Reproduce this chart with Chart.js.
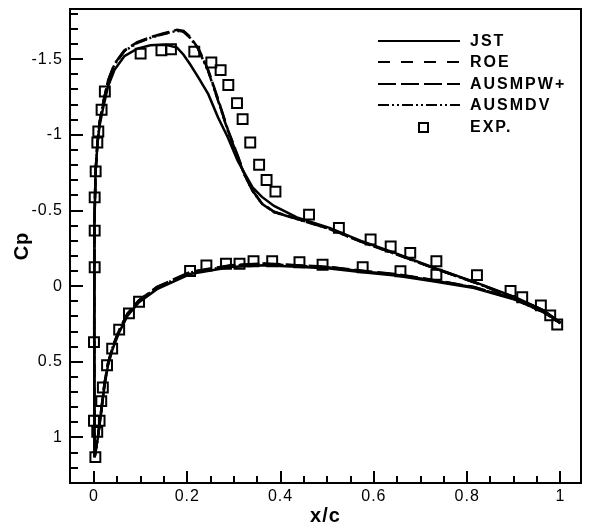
<!DOCTYPE html>
<html>
<head>
<meta charset="utf-8">
<script src="https://cdn.jsdelivr.net/npm/chart.js@4/dist/chart.umd.min.js"></script>
<style>
  html, body { margin: 0; padding: 0; background: #fff; }
  canvas { display: block; }
</style>
</head>
<body>
<canvas id="cp-chart" width="590" height="526"></canvas>
<script>
// surface stations (x/c), leading edge -> trailing edge
const X_UPPER = [0.0015, 0.0008, 0.0005, 0.0006, 0.0012, 0.0035, 0.0075, 0.012, 0.019, 0.03, 0.044, 0.065, 0.093, 0.121, 0.15, 0.178, 0.192, 0.206, 0.224, 0.245, 0.266, 0.287, 0.308, 0.322, 0.34, 0.36, 0.386, 0.435, 0.505, 0.576, 0.646, 0.73, 0.815, 0.9, 0.963, 1.0];
const X_LOWER = [0.0015, 0.0085, 0.0156, 0.0226, 0.03, 0.04, 0.054, 0.072, 0.0966, 0.135, 0.206, 0.294, 0.364, 0.435, 0.505, 0.576, 0.646, 0.73, 0.815, 0.9, 0.963, 1.0];

const JST_UPPER = [1.13, 0.75, 0.3, -0.1, -0.45, -0.76, -0.94, -1.06, -1.17, -1.32, -1.43, -1.52, -1.57, -1.592, -1.598, -1.577, -1.53, -1.467, -1.379, -1.269, -1.115, -0.983, -0.829, -0.75, -0.653, -0.59, -0.53, -0.455, -0.385, -0.295, -0.218, -0.12, -0.028, 0.07, 0.158, 0.24];
const JST_LOWER = [1.13, 1.0, 0.83, 0.655, 0.525, 0.415, 0.305, 0.195, 0.106, 0.02, -0.08, -0.127, -0.138, -0.128, -0.116, -0.092, -0.07, -0.03, 0.012, 0.086, 0.17, 0.24];

const ROE_UPPER = [1.13, 0.75, 0.3, -0.1, -0.45, -0.76, -0.95, -1.08, -1.2, -1.355, -1.467, -1.555, -1.61, -1.643, -1.669, -1.69, -1.683, -1.645, -1.566, -1.423, -1.23, -1.03, -0.86, -0.741, -0.63, -0.545, -0.49, -0.445, -0.379, -0.29, -0.214, -0.118, -0.026, 0.073, 0.16, 0.245];
const ROE_LOWER = [1.13, 0.996, 0.82, 0.644, 0.512, 0.402, 0.292, 0.182, 0.094, 0.007, -0.092, -0.137, -0.148, -0.137, -0.125, -0.1, -0.078, -0.038, 0.007, 0.083, 0.17, 0.245];

const AUSMPW_UPPER = [1.13, 0.75, 0.3, -0.1, -0.45, -0.76, -0.95, -1.08, -1.2, -1.357, -1.469, -1.558, -1.613, -1.646, -1.672, -1.694, -1.687, -1.648, -1.57, -1.428, -1.236, -1.035, -0.864, -0.744, -0.632, -0.547, -0.492, -0.446, -0.38, -0.291, -0.215, -0.118, -0.026, 0.073, 0.16, 0.245];
const AUSMPW_LOWER = [1.13, 0.995, 0.818, 0.642, 0.51, 0.4, 0.29, 0.18, 0.092, 0.005, -0.094, -0.139, -0.15, -0.139, -0.127, -0.102, -0.08, -0.04, 0.006, 0.082, 0.17, 0.245];

const AUSMDV_UPPER = [1.13, 0.75, 0.3, -0.1, -0.45, -0.76, -0.95, -1.08, -1.2, -1.353, -1.465, -1.553, -1.608, -1.641, -1.667, -1.688, -1.681, -1.642, -1.563, -1.42, -1.226, -1.027, -0.857, -0.739, -0.628, -0.544, -0.489, -0.444, -0.378, -0.289, -0.213, -0.117, -0.025, 0.074, 0.161, 0.245];
const AUSMDV_LOWER = [1.13, 0.997, 0.822, 0.646, 0.514, 0.404, 0.294, 0.184, 0.096, 0.009, -0.09, -0.135, -0.146, -0.135, -0.123, -0.098, -0.076, -0.036, 0.008, 0.084, 0.171, 0.245];

const EXP_X = [0.0, 0.0015, 0.0015, 0.0015, 0.0036, 0.0072, 0.0093, 0.0163, 0.0233, 0.1, 0.1446, 0.165, 0.215, 0.2516, 0.2715, 0.288, 0.3066, 0.3186, 0.335, 0.354, 0.37, 0.389, 0.461, 0.525, 0.593, 0.636, 0.678, 0.734,
  0.003, 0.0, 0.007, 0.012, 0.0156, 0.019, 0.028, 0.039, 0.054, 0.075, 0.0966, 0.206, 0.241, 0.283, 0.312, 0.342, 0.382, 0.4405, 0.49, 0.576, 0.657, 0.734, 0.821, 0.893, 0.918, 0.958, 0.978, 0.993];
const EXP_CP = [0.37, -0.125, -0.367, -0.587, -0.759, -0.95, -1.022, -1.166, -1.287, -1.537, -1.559, -1.566, -1.55, -1.478, -1.428, -1.33, -1.21, -1.104, -0.95, -0.803, -0.702, -0.625, -0.473, -0.385, -0.308, -0.262, -0.22, -0.165,
  1.13, 0.89, 0.963, 0.89, 0.76, 0.67, 0.523, 0.413, 0.287, 0.18, 0.103, -0.1, -0.137, -0.148, -0.148, -0.165, -0.165, -0.158, -0.142, -0.125, -0.099, -0.075, -0.073, 0.032, 0.073, 0.127, 0.193, 0.253];

const X_TICKS = [0, 0.2, 0.4, 0.6, 0.8, 1];
const Y_TICKS = [-1.5, -1, -0.5, 0, 0.5, 1];

const FONT = '"Liberation Sans", Arial, Helvetica, sans-serif';

// trailing edge (upper) -> leading edge -> trailing edge (lower)
const surface = (up, lo) => [
  ...X_UPPER.map((x, i) => ({ x, y: up[i] })).reverse(),
  ...X_LOWER.map((x, i) => ({ x, y: lo[i] })).slice(1)
];

const lineSet = (label, up, lo, dash) => ({
  label,
  data: surface(up, lo),
  showLine: true,
  borderColor: '#000',
  borderWidth: 2.5,
  borderDash: dash,
  pointRadius: 0,
  fill: false
});

const datasets = [
  lineSet('JST', JST_UPPER, JST_LOWER, []),
  lineSet('ROE', ROE_UPPER, ROE_LOWER, [12, 11]),
  lineSet('AUSMPW+', AUSMPW_UPPER, AUSMPW_LOWER, [18, 5]),
  lineSet('AUSMDV', AUSMDV_UPPER, AUSMDV_LOWER, [11, 3, 2, 3, 2, 3]),
  {
    label: 'EXP.',
    data: EXP_X.map((x, i) => ({ x, y: EXP_CP[i] })),
    showLine: false,
    pointStyle: 'rect',
    pointRadius: 7,
    pointBorderWidth: 2,
    pointBorderColor: '#000',
    pointBackgroundColor: 'rgba(0,0,0,0)'
  }
];

// inward tick marks + box frame
const framePlugin = {
  id: 'frame',
  beforeDraw(chart) {
    chart.ctx.letterSpacing = '1px';
  },
  afterDraw(chart) {
    const { ctx, chartArea: a, scales: { x, y } } = chart;
    ctx.save();
    ctx.letterSpacing = '0px';
    ctx.strokeStyle = '#000';
    ctx.lineWidth = 2;
    ctx.beginPath();
    for (let i = -1; i <= 21; i++) {
      const v = i * 0.05;
      const px = Math.round(x.getPixelForValue(v));
      if (px <= a.left + 1 || px >= a.right - 1) continue;
      const len = i % 4 === 0 ? 12 : 7;
      ctx.moveTo(px, a.bottom);
      ctx.lineTo(px, a.bottom - len);
    }
    for (let i = -18; i <= 13; i++) {
      const v = i / 10;
      const py = Math.round(y.getPixelForValue(v));
      if (py <= a.top + 1 || py >= a.bottom - 1) continue;
      const len = i % 5 === 0 ? 13 : 8;
      ctx.moveTo(a.left, py);
      ctx.lineTo(a.left + len, py);
    }
    ctx.stroke();
    ctx.strokeRect(a.left, a.top, a.right - a.left, a.bottom - a.top);
    ctx.restore();
  }
};

const LEGEND_X0 = 378, LEGEND_X1 = 460, LEGEND_TEXT = 470, LEGEND_TOP = 41, LEGEND_ROW = 21.4;

const legendPlugin = {
  id: 'cpLegend',
  afterDraw(chart) {
    const ctx = chart.ctx;
    ctx.save();
    ctx.font = 'bold 16px ' + FONT;
    ctx.letterSpacing = '2px';
    ctx.textBaseline = 'middle';
    ctx.fillStyle = '#000';
    ctx.strokeStyle = '#000';
    ctx.lineWidth = 2;
    chart.data.datasets.forEach((ds, i) => {
      const yy = Math.round(LEGEND_TOP + i * LEGEND_ROW);
      if (ds.showLine) {
        ctx.setLineDash(ds.borderDash || []);
        ctx.beginPath();
        ctx.moveTo(LEGEND_X0, yy);
        ctx.lineTo(LEGEND_X1, yy);
        ctx.stroke();
        ctx.setLineDash([]);
      } else {
        ctx.strokeRect(419, yy - 4, 9, 9);
      }
      ctx.fillText(ds.label, LEGEND_TEXT, yy + 1);
    });
    ctx.restore();
  }
};

new Chart(document.getElementById('cp-chart'), {
  type: 'scatter',
  data: { datasets },
  options: {
    responsive: false,
    animation: false,
    events: [],
    layout: { padding: { left: 0, right: 1, top: 8, bottom: 0 } },
    plugins: { legend: { display: false }, tooltip: { enabled: false } },
    scales: {
      x: {
        type: 'linear',
        min: -0.0514,
        max: 1.044,
        grid: { display: false, drawTicks: false },
        border: { display: false },
        afterBuildTicks: s => { s.ticks = X_TICKS.map(v => ({ value: v })); },
        afterFit: s => { s.height = 43; s.paddingLeft = 0; s.paddingRight = 0; },
        ticks: {
          autoSkip: false,
          maxRotation: 0,
          padding: 4,
          color: '#000',
          font: { family: FONT, size: 16 },
          callback: v => String(v)
        },
        title: {
          display: true,
          text: 'x/c',
          color: '#000',
          font: { family: FONT, size: 20, weight: 'bold', lineHeight: 1 },
          padding: { top: 0, bottom: 0 }
        }
      },
      y: {
        type: 'linear',
        reverse: true,
        min: -1.832,
        max: 1.301,
        grid: { display: false, drawTicks: false },
        border: { display: false },
        afterBuildTicks: s => { s.ticks = Y_TICKS.map(v => ({ value: v })); },
        afterFit: s => { s.width = 70; s.paddingTop = 0; s.paddingBottom = 0; },
        ticks: {
          autoSkip: false,
          padding: 7,
          color: '#000',
          font: { family: FONT, size: 16 },
          callback: v => String(v)
        },
        title: {
          display: true,
          text: 'Cp',
          color: '#000',
          font: { family: FONT, size: 20, weight: 'bold', lineHeight: 1 },
          padding: { top: 12, bottom: 0 }
        }
      }
    }
  },
  plugins: [framePlugin, legendPlugin]
});
</script>
</body>
</html>
